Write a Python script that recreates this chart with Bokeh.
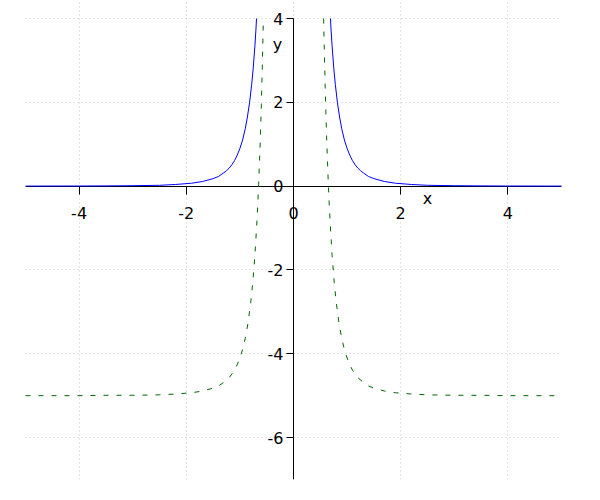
from bokeh.plotting import figure
from bokeh.models import FixedTicker, Label, Range1d
from bokeh.embed import file_html
from bokeh.resources import INLINE

nan = float("nan")

# Blue solid curve (two branches, separated by a gap; each leaves the plot at y = 4)
blue_x = [-5.0, -4.0, -3.5, -3.0, -2.5, -2.2, -1.9, -1.7, -1.5, -1.4, -1.3, -1.25, -1.2, -1.15,
          -1.1, -1.05, -1.0, -0.95, -0.90, -0.86, -0.82, -0.78, -0.75, -0.72, -0.70, -0.69,
          nan,
          0.69, 0.70, 0.72, 0.75, 0.78, 0.82, 0.86, 0.90, 0.95, 1.0, 1.05, 1.1,
          1.15, 1.2, 1.25, 1.3, 1.4, 1.5, 1.7, 1.9, 2.2, 2.5, 3.0, 3.5, 4.0, 5.0]
blue_y = [0.0014, 0.0035, 0.006, 0.011, 0.02, 0.04, 0.07, 0.11, 0.18, 0.23, 0.32, 0.37, 0.43, 0.51,
          0.61, 0.74, 0.90, 1.10, 1.37, 1.65, 1.99, 2.43, 2.84, 3.35, 3.75, 4.0,
          nan,
          4.0, 3.75, 3.35, 2.84, 2.43, 1.99, 1.65, 1.37, 1.10, 0.90, 0.74, 0.61,
          0.51, 0.43, 0.37, 0.32, 0.23, 0.18, 0.11, 0.07, 0.04, 0.02, 0.011, 0.006, 0.0035, 0.0014]

# Green dashed curve (two branches)
green_x = [-5.0, -4.0, -3.5, -3.0, -2.5, -2.2, -1.9, -1.7, -1.5, -1.4, -1.3, -1.2, -1.1, -1.05,
           -1.0, -0.95, -0.90, -0.85, -0.80, -0.76, -0.72, -0.68, -0.65, -0.62, -0.60, -0.58,
           -0.562,
           nan,
           0.562, 0.58, 0.60, 0.62, 0.65, 0.68, 0.72, 0.76, 0.80, 0.85, 0.90, 0.95, 1.0,
           1.05, 1.1, 1.2, 1.3, 1.4, 1.5, 1.7, 1.9, 2.2, 2.5, 3.0, 3.5, 4.0, 5.0]
green_y = [-5.00, -5.00, -4.99, -4.99, -4.98, -4.96, -4.93, -4.89, -4.82, -4.77, -4.68, -4.57, -4.39, -4.26,
           -4.10, -3.90, -3.63, -3.28, -2.80, -2.30, -1.65, -0.79, 0.04, 1.09, 1.94, 2.95,
           4.0,
           nan,
           4.0, 2.95, 1.94, 1.09, 0.04, -0.79, -1.65, -2.30, -2.80, -3.28, -3.63, -3.90, -4.10,
           -4.26, -4.39, -4.57, -4.68, -4.77, -4.82, -4.89, -4.93, -4.96, -4.98, -4.99, -4.99, -5.00, -5.00]

x_ticks = [-4, -2, 0, 2, 4]
y_ticks = [-6, -4, -2, 0, 2, 4]
y_lo, y_hi = -7, 4

# the frame reaches a little above y = 4 so that the top tick label is not clipped
p = figure(width=584, height=484, x_range=Range1d(-5, 5), y_range=Range1d(y_lo, 4.43),
           output_backend="svg", toolbar_location=None,
           min_border_left=25, min_border_right=23, min_border_top=0, min_border_bottom=5)
p.outline_line_color = None
p.background_fill_color = "white"

p.xaxis.fixed_location = 0
p.yaxis.fixed_location = 0
p.yaxis.bounds = (y_lo, y_hi)
p.xgrid.bounds = (y_lo, y_hi)
p.xaxis.ticker = FixedTicker(ticks=x_ticks)
p.yaxis.ticker = FixedTicker(ticks=y_ticks)
p.xgrid.ticker = FixedTicker(ticks=x_ticks)
p.ygrid.ticker = FixedTicker(ticks=y_ticks)
p.xaxis.major_label_overrides = {t: str(t) for t in x_ticks}
p.yaxis.major_label_overrides = {t: str(t) for t in y_ticks}

for ax in (p.xaxis, p.yaxis):
    ax.axis_line_color = "black"
    ax.axis_line_width = 1
    ax.major_tick_line_color = "black"
    ax.minor_tick_line_color = None
    ax.major_tick_in = 0
    ax.major_label_text_font = "DejaVu Sans"
    ax.major_label_text_font_size = "16px"
    ax.major_label_text_color = "black"
p.xaxis.major_tick_out = 8
p.yaxis.major_tick_out = 7
p.xaxis.major_label_standoff = 13
p.yaxis.major_label_standoff = 3

p.grid.grid_line_color = "#c8c8c8"
p.grid.grid_line_dash = "1 3"
p.grid.grid_line_width = 1

p.line(blue_x, blue_y, line_color="#0000ff", line_width=1, level="overlay")
p.line(green_x, green_y, line_color="#006400", line_width=1, line_dash="5 8", level="overlay")

p.add_layout(Label(x=2.5, y=-0.29, text="x", text_align="center", text_baseline="middle",
                   text_font="DejaVu Sans", text_font_size="16px", text_color="black"))
p.add_layout(Label(x=-0.3, y=3.37, text="y", text_align="center", text_baseline="middle",
                   text_font="DejaVu Sans", text_font_size="16px", text_color="black"))

open("out.html", "w").write(file_html(p, INLINE))
